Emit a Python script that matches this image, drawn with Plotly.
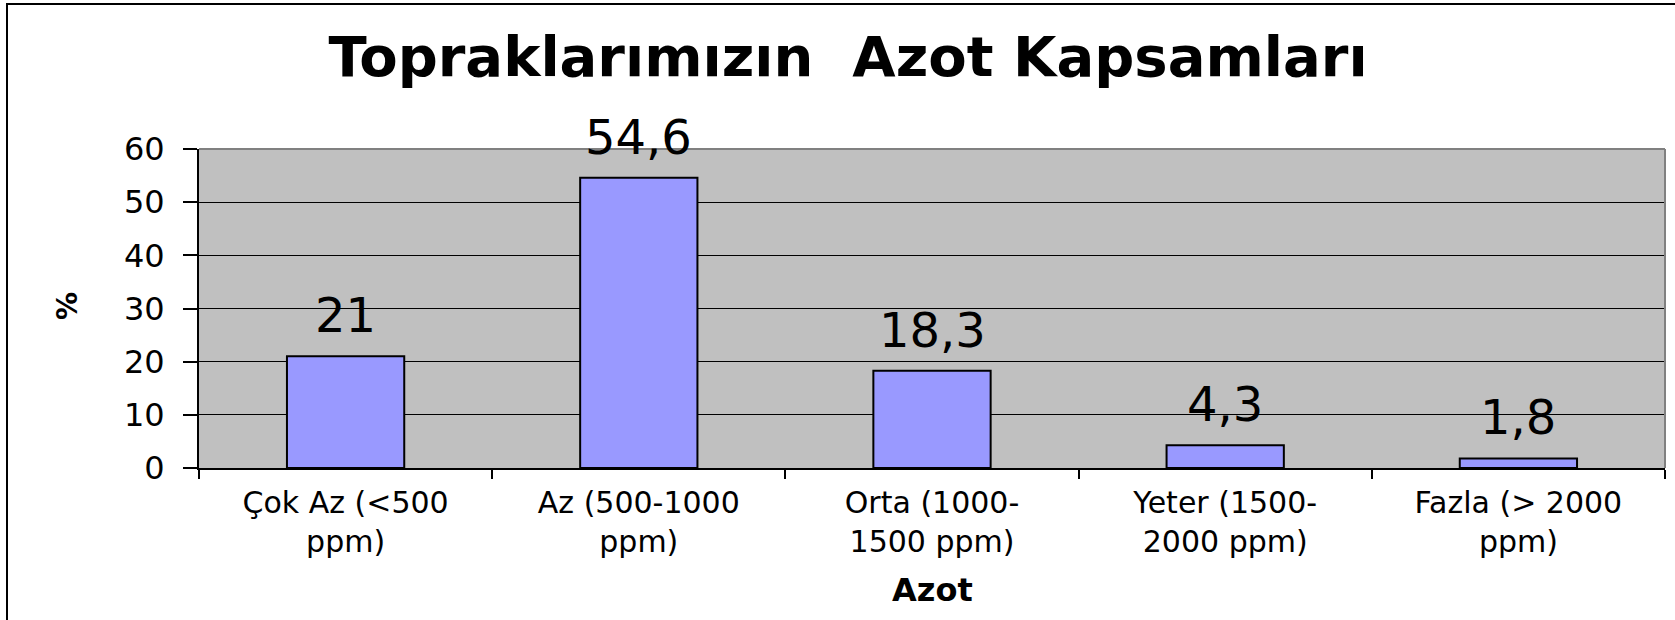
import plotly.graph_objects as go

# ---- data ----
categories = ["Çok Az (<500<br>ppm)", "Az (500-1000<br>ppm)", "Orta (1000-<br>1500 ppm)",
              "Yeter (1500-<br>2000 ppm)", "Fazla (> 2000<br>ppm)"]
values = [21, 54.6, 18.3, 4.3, 1.8]
y_ticks = [0, 10, 20, 30, 40, 50, 60]
title_text = "Topraklarımızın \u00a0Azot Kapsamları"
x_title = "Azot"
y_title = "%"

def fmt(v):
    return ("%g" % v).replace(".", ",")

W, H = 1675, 620
L, R, T, B = 199, 1665, 149, 468
FONT = "DejaVu Sans, Liberation Sans, Arial, sans-serif"

pw, ph = R - L, B - T
def px2x(px): return (px - L) / pw
def py2y(py): return (B - py) / ph

fig = go.Figure()
fig.add_trace(go.Bar(
    x=categories, y=values,
    marker=dict(color="#9999FF", line=dict(color="black", width=2)),
    showlegend=False, hoverinfo="skip",
))

for c, v in zip(categories, values):
    fig.add_annotation(x=c, y=v, xref="x", yref="y", text=fmt(v), showarrow=False,
                       yanchor="bottom", yshift=11,
                       font=dict(family=FONT, size=48, color="black"))

fig.add_annotation(x=0.5, xref="paper", y=py2y(590), yref="paper", yanchor="middle",
                   text="<b>%s</b>" % x_title, showarrow=False,
                   font=dict(family=FONT, size=32, color="black"))
fig.add_annotation(x=px2x(67), xref="paper", y=py2y(306), yref="paper", yanchor="middle",
                   xanchor="center", textangle=-90,
                   text="<b>%s</b>" % y_title, showarrow=False,
                   font=dict(family=FONT, size=28, color="black"))

fig.update_layout(
    width=W, height=H,
    margin=dict(l=L, r=W - R, t=T, b=H - B, autoexpand=False),
    paper_bgcolor="white", plot_bgcolor="#C0C0C0",
    bargap=0.6,
    title=dict(text="<b>%s</b>" % title_text, x=848 / W, xanchor="center",
               y=1 - 56 / H, yanchor="middle", yref="container",
               font=dict(family=FONT, size=56, color="black")),
    xaxis=dict(type="category", tickson="boundaries", ticks="outside", ticklen=9,
               tickcolor="black", tickwidth=2, showline=True, linecolor="black", linewidth=2,
               showgrid=False, tickfont=dict(family=FONT, size=30, color="black"),
               ticklabelstandoff=7),
    yaxis=dict(range=[0, 60], tickvals=y_ticks, ticks="outside", ticklen=14,
               tickcolor="black", tickwidth=2, showline=True, linecolor="black", linewidth=2,
               showgrid=True, gridcolor="black", gridwidth=1, zeroline=False,
               tickfont=dict(family=FONT, size=32, color="black"), ticklabelstandoff=12),
    shapes=[
        dict(type="line", xref="paper", yref="paper", x0=0, x1=1, y0=1, y1=1,
             line=dict(color="#808080", width=2)),
        dict(type="line", xref="paper", yref="paper", x0=1, x1=1, y0=0, y1=1,
             line=dict(color="#808080", width=2)),
        dict(type="rect", xref="paper", yref="paper", x0=px2x(7), x1=px2x(1690),
             y0=py2y(640), y1=py2y(4), line=dict(color="black", width=2), layer="below"),
    ],
)

fig.write_html("out.html", config={"displayModeBar": False},
               post_script="document.body.style.margin='0';")
